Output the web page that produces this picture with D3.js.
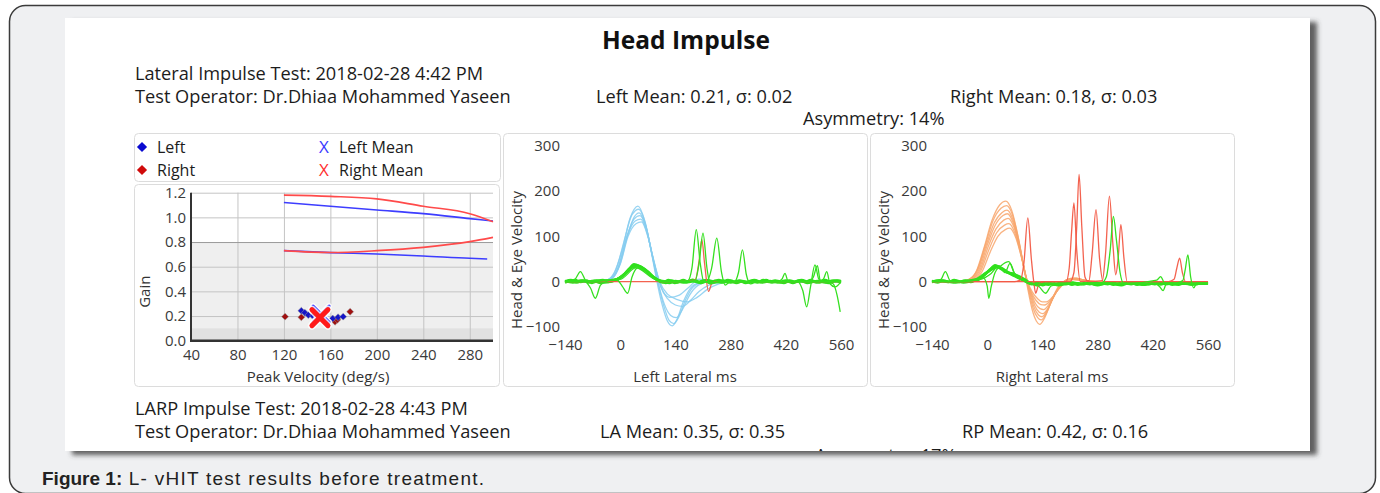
<!DOCTYPE html>
<html>
<head>
<meta charset="utf-8">
<script src="https://cdn.jsdelivr.net/npm/d3@7"></script>
<style>
    body { margin: 0; background: #fff; }
    svg text { font-family: "Open Sans", "Noto Sans", sans-serif; fill: #1c1c1c; }
    .tick text { fill: #3a3a3a; }
</style>
</head>
<body>
<div id="chart"></div>
<script>
// ---------- data ----------
const gainTicks = [0, 0.2, 0.4, 0.6, 0.8, 1.0, 1.2];
const peakVelTicks = [40, 80, 120, 160, 200, 240, 280];
const timeTicks = [-140, 0, 140, 280, 420, 560];
const velTicks = [-100, 0, 100, 200, 300];

// normative gain curves (peak velocity, gain)
const normVel = [120, 160, 200, 240, 280, 300];
const rightUpper = [1.18, 1.17, 1.15, 1.09, 1.03, 0.965];
const leftUpper = [1.12, 1.09, 1.06, 1.03, 0.99, 0.97];
const rightLower = [0.73, 0.715, 0.73, 0.757, 0.803, 0.838];
const leftLowerVel = [120, 160, 200, 240, 280, 295];
const leftLower = [0.73, 0.714, 0.703, 0.687, 0.668, 0.663];

// individual impulses (peak velocity, gain)
const leftImpulses = [[135, 0.243], [138, 0.227], [141, 0.208], [145, 0.2], [162, 0.18], [166.6, 0.19], [171, 0.195]];
const rightImpulses = [[121, 0.195], [135, 0.19], [164, 0.154], [166, 0.17], [177, 0.235]];
const leftMean = [152, 0.215];
const rightMean = [151, 0.187];

// Left lateral: head velocity traces (ms, deg/s)
const leftHead = [
    [[-140,0],[-60,0],[-35,3],[-15,20],[5,70],[25,140],[45,167],[62,135],[78,70],[92,5],[106,-50],[120,-88],[132,-98],[145,-82],[160,-45],[178,-15],[200,-3],[240,0],[560,0]],
    [[-140,0],[-55,0],[-30,4],[-10,28],[10,90],[30,148],[47,160],[64,128],[80,62],[95,0],[110,-52],[124,-86],[136,-93],[150,-76],[166,-40],[185,-12],[210,-2],[250,0],[560,0]],
    [[-140,0],[-50,1],[-25,6],[-5,32],[15,95],[35,138],[50,146],[66,118],[82,55],[97,-5],[112,-50],[128,-75],[142,-80],[158,-62],[176,-30],[198,-8],[225,0],[560,0]],
    [[-140,0],[-45,1],[-20,8],[0,40],[20,105],[38,134],[52,138],[68,108],[85,45],[102,-10],[120,-38],[140,-52],[158,-55],[178,-42],[200,-22],[225,-8],[255,-1],[290,0],[560,0]],
    [[-140,0],[-50,0],[-25,5],[-5,30],[15,92],[35,142],[48,152],[64,125],[82,58],[100,0],[120,-28],[145,-40],[170,-45],[195,-35],[220,-18],[250,-5],[285,0],[560,0]],
    [[-140,0],[-45,0],[-20,7],[0,38],[20,100],[40,128],[54,132],[70,100],[88,35],[105,-15],[125,-35],[150,-30],[175,-12],[200,5],[225,3],[260,0],[560,0]]
];
// Left lateral: eye velocity, quiet traces
const leftEyeBase = [
    [[-140,0],[-125,3],[-110,-2],[-95,2],[-80,-2],[-65,1],[-50,-3],[-35,2],[-20,1],[-5,6],[10,16],[25,30],[40,36],[55,31],[70,22],[85,10],[100,2],[115,-3],[130,2],[145,-2],[160,3],[175,-1],[190,2],[205,-3],[220,1],[235,-2],[250,3],[265,-1],[280,2],[295,-3],[310,1],[325,-2],[340,2],[355,-1],[370,3],[385,-2],[400,1],[415,-3],[430,2],[445,-1],[460,2],[475,-3],[490,1],[505,-2],[520,3],[535,-1],[550,2],[560,0]],
    [[-140,-2],[-128,1],[-114,3],[-100,-1],[-86,2],[-72,-3],[-58,1],[-44,3],[-30,-1],[-14,3],[2,10],[18,22],[33,32],[48,34],[63,26],[78,14],[93,4],[108,-2],[123,3],[138,-3],[153,1],[168,-2],[183,4],[198,-1],[213,2],[228,-3],[243,2],[258,-2],[273,3],[288,-1],[303,2],[318,-3],[333,1],[348,-2],[363,3],[378,-1],[393,2],[408,-2],[423,1],[438,-3],[453,2],[468,-1],[483,3],[498,-2],[513,1],[528,-3],[543,1],[560,-2]],
    [[-140,1],[-120,-2],[-100,2],[-80,0],[-60,2],[-40,-2],[-25,0],[-10,4],[5,12],[20,24],[35,38],[50,33],[65,24],[80,12],[95,3],[110,0],[125,-3],[140,1],[160,-2],[180,2],[200,-2],[220,3],[240,-1],[260,2],[280,-2],[300,1],[320,-1],[340,3],[360,-2],[380,1],[400,-2],[420,2],[440,-1],[460,3],[480,-2],[500,1],[520,-2],[540,2],[560,1]]
];
// Left lateral: eye velocity with saccades
const leftEyeSaccade = [
    [[-140,0],[-115,5],[-101,22],[-88,2],[-75,-15],[-63,-37],[-50,-8],[-35,0],[0,10],[20,25],[40,33],[60,25],[80,10],[100,0],[150,0],[172,2],[182,30],[193,115],[203,40],[212,0],[240,-3],[290,0],[300,20],[310,70],[320,15],[330,-5],[350,0],[450,0],[463,-20],[473,-56],[483,-10],[494,37],[504,5],[520,0],[540,-5],[550,-30],[558,-67]],
    [[-140,0],[-60,0],[-10,5],[5,-10],[19,-26],[30,10],[45,30],[65,22],[90,5],[130,0],[190,2],[200,40],[210,107],[220,30],[228,-5],[250,0],[400,0],[410,5],[418,18],[426,0],[500,0],[515,5],[524,22],[532,-5],[545,-12],[560,0]],
    [[-140,0],[0,5],[40,30],[90,5],[150,0],[220,0],[232,30],[245,96],[257,20],[266,-8],[280,0],[320,-2],[360,0],[480,0],[490,10],[500,35],[508,0],[530,0],[560,0]]
];
const leftEyeRed = [
    [[-140,0],[150,0],[190,3],[200,45],[207,93],[214,40],[224,-22],[232,-5],[245,0],[560,0]]
];

// Right lateral: head velocity traces
const rightHead = [
    [[-140,0],[-70,0],[-48,4],[-28,22],[-8,75],[12,135],[32,170],[47,178],[62,158],[77,105],[92,35],[102,-12],[114,-62],[125,-88],[133,-95],[146,-80],[162,-45],[180,-12],[200,3],[222,8],[246,3],[275,0],[560,0]],
    [[-140,0],[-68,0],[-45,5],[-25,26],[-5,80],[15,135],[35,162],[49,168],[64,148],[79,96],[94,28],[104,-15],[116,-58],[128,-80],[137,-85],[150,-70],[166,-38],[184,-10],[204,4],[226,7],[250,2],[280,0],[560,0]],
    [[-140,0],[-65,0],[-42,6],[-22,30],[-2,82],[18,130],[38,153],[50,158],[65,138],[80,88],[95,22],[106,-18],[118,-55],[130,-74],[139,-78],[152,-64],[168,-34],[186,-8],[206,5],[228,6],[255,1],[285,0],[560,0]],
    [[-140,0],[-62,0],[-40,5],[-20,28],[0,80],[20,124],[40,146],[51,150],[66,130],[82,78],[97,15],[108,-20],[120,-52],[132,-68],[141,-71],[155,-58],[171,-30],[190,-6],[210,5],[232,5],[260,1],[290,0],[560,0]],
    [[-140,0],[-60,0],[-38,5],[-18,26],[2,76],[22,116],[42,136],[53,140],[68,120],[84,68],[99,8],[110,-22],[122,-48],[134,-60],[143,-62],[157,-50],[173,-26],[192,-4],[212,6],[235,4],[265,0],[560,0]],
    [[-140,0],[-58,0],[-36,4],[-16,24],[4,70],[24,108],[44,125],[55,128],[70,108],[86,58],[101,2],[112,-24],[124,-42],[136,-51],[146,-52],[160,-42],[176,-22],[195,-3],[215,5],[238,3],[268,0],[560,0]],
    [[-140,0],[-55,0],[-33,4],[-13,22],[7,64],[27,100],[46,115],[57,118],[72,98],[88,50],[103,-2],[115,-24],[128,-38],[140,-45],[150,-45],[164,-36],[180,-18],[198,-2],[218,4],[242,2],[272,0],[560,0]]
];
const rightEyeBase = [
    [[-140,0],[-120,2],[-100,-1],[-80,2],[-60,-2],[-40,1],[-25,3],[-10,12],[5,25],[20,33],[35,30],[50,22],[65,15],[80,12],[95,5],[110,-4],[125,-6],[140,-3],[155,-7],[170,-4],[185,-6],[200,-3],[215,-7],[230,-4],[245,-6],[260,-3],[275,-7],[290,-4],[305,-6],[320,-3],[335,-7],[350,-4],[365,-6],[380,-3],[395,-7],[410,-4],[425,-6],[440,-3],[455,-6],[470,-4],[485,-7],[500,-3],[515,-6],[530,-4],[545,-5],[560,-3]],
    [[-140,1],[-126,-2],[-112,2],[-98,-1],[-84,3],[-70,-1],[-56,2],[-42,-1],[-28,4],[-14,10],[0,20],[14,28],[28,32],[42,26],[56,18],[70,12],[84,6],[98,0],[112,-6],[126,-3],[140,-8],[155,-4],[170,-7],[185,-3],[200,-6],[215,-2],[230,-7],[245,-4],[260,-6],[275,-2],[290,-6],[305,-3],[320,-7],[335,-4],[350,-5],[365,-2],[380,-7],[395,-4],[410,-6],[425,-2],[440,-6],[455,-3],[470,-7],[485,-4],[500,-5],[515,-2],[530,-6],[545,-3],[560,-4]],
    [[-140,-1],[-120,2],[-100,0],[-80,-2],[-60,1],[-40,3],[-25,6],[-10,15],[5,24],[20,36],[35,28],[50,20],[65,18],[80,10],[95,2],[110,-3],[125,-8],[140,-5],[160,-4],[180,-8],[200,-5],[220,-3],[240,-6],[260,-4],[280,-8],[300,-4],[320,-5],[340,-8],[360,-3],[380,-5],[400,-7],[420,-4],[440,-6],[460,-3],[480,-6],[500,-4],[520,-7],[540,-4],[560,-5]]
];
const rightEyeSaccade = [
    [[-140,0],[-118,4],[-106,22],[-94,2],[-80,0],[-40,2],[-10,8],[0,-10],[4,-37],[10,-12],[20,20],[35,35],[55,44],[68,20],[85,6],[105,-3],[130,-10],[148,-26],[162,-10],[185,-5],[240,-4],[290,-3],[302,10],[312,70],[320,144],[328,90],[337,20],[346,-4],[380,-5],[425,-4],[438,-12],[446,-20],[455,-4],[480,-3],[496,2],[502,25],[509,59],[516,10],[524,-14],[532,-3],[560,-4]],
    [[-140,0],[-60,0],[-20,4],[10,18],[30,35],[45,20],[58,40],[72,12],[90,3],[110,-5],[200,-4],[240,-6],[300,-3],[350,-5],[430,3],[440,11],[450,-3],[500,-4],[560,-3]]
];
const rightEyeRed = [
    [[-140,0],[70,0],[84,3],[93,40],[103,141],[112,50],[118,0],[123,-26],[130,-8],[145,0],[200,0],[208,30],[214,110],[220,174],[227,70],[236,0],[258,2],[266,60],[276,159],[285,50],[294,0],[330,0],[460,0],[474,5],[481,30],[488,52],[495,20],[503,0],[560,0]],
    [[-140,0],[210,0],[220,20],[227,120],[233,237],[240,120],[248,10],[256,0],[292,2],[300,60],[310,189],[319,80],[326,15],[332,50],[339,126],[347,50],[355,0],[380,0],[560,0]]
];

// ---------- page ----------
const W = 1380, H = 493;
const svg = d3.select('#chart').append('svg')
    .attr('width', W)
    .attr('height', H);

const defs = svg.append('defs');
const shadow = defs.append('filter').attr('id', 'shadow')
    .attr('x', '-2%').attr('y', '-2%').attr('width', '105%').attr('height', '107%');
shadow.append('feDropShadow')
    .attr('dx', 7).attr('dy', 4).attr('stdDeviation', 2.5)
    .attr('flood-color', '#3a3a3a').attr('flood-opacity', 0.8);
defs.append('clipPath').attr('id', 'panel-clip')
    .append('rect').attr('x', 65).attr('y', 18).attr('width', 1245).attr('height', 433);

// outer frame
svg.append('rect')
    .attr('x', 9.5).attr('y', 5.5)
    .attr('width', 1366).attr('height', 488)
    .attr('rx', 16)
    .attr('fill', '#eff0f2')
    .attr('stroke', '#3b3b3b')
    .attr('stroke-width', 1.5);

// screenshot panel
svg.append('rect')
    .attr('x', 65).attr('y', 18)
    .attr('width', 1245).attr('height', 433)
    .attr('fill', '#fff')
    .attr('filter', 'url(#shadow)');

const panel = svg.append('g').attr('clip-path', 'url(#panel-clip)');

panel.append('text')
    .attr('x', 686).attr('y', 49)
    .attr('text-anchor', 'middle')
    .style('font-size', '24.5px')
    .style('font-weight', 'bold')
    .style('fill', '#111')
    .text('Head Impulse');

const headerLines = [
    { x: 135, y: 80, t: 'Lateral Impulse Test: 2018-02-28 4:42 PM' },
    { x: 135, y: 103, t: 'Test Operator: Dr.Dhiaa Mohammed Yaseen' },
    { x: 596, y: 103, t: 'Left Mean: 0.21, \u03c3: 0.02' },
    { x: 950, y: 103, t: 'Right Mean: 0.18, \u03c3: 0.03' },
    { x: 803, y: 125, t: 'Asymmetry: 14%' },
    { x: 135, y: 415, t: 'LARP Impulse Test: 2018-02-28 4:43 PM' },
    { x: 135, y: 438, t: 'Test Operator: Dr.Dhiaa Mohammed Yaseen' },
    { x: 600, y: 438, t: 'LA Mean: 0.35, \u03c3: 0.35' },
    { x: 962, y: 438, t: 'RP Mean: 0.42, \u03c3: 0.16' },
    { x: 815, y: 462, t: 'Asymmetry: 17%' }
];
panel.selectAll('.header-line')
    .data(headerLines)
    .join('text')
    .attr('class', 'header-line')
    .attr('x', d => d.x)
    .attr('y', d => d.y)
    .style('font-size', '18.2px')
    .text(d => d.t);

// ---------- legend ----------
function box(x, y, w, h) {
    panel.append('rect')
        .attr('x', x + 0.5).attr('y', y + 0.5)
        .attr('width', w).attr('height', h)
        .attr('rx', 4)
        .attr('fill', '#fff')
        .attr('stroke', '#dcdcdc');
}

const diamond = size => d3.symbol(d3.symbolSquare, size)();

box(134, 133, 366, 48);
const legendItems = [
    { x: 142, y: 147, label: 'Left', kind: 'diamond', color: '#0a0ad0' },
    { x: 142, y: 170, label: 'Right', kind: 'diamond', color: '#d00a0a' },
    { x: 324, y: 147, label: 'Left Mean', kind: 'x', color: '#3a3aff' },
    { x: 324, y: 170, label: 'Right Mean', kind: 'x', color: '#ff3030' }
];
const legend = panel.append('g').attr('class', 'legend');
legendItems.forEach(d => {
    if (d.kind === 'diamond') {
        legend.append('path')
            .attr('transform', `translate(${d.x},${d.y}) rotate(45)`)
            .attr('d', diamond(52))
            .attr('fill', d.color);
    } else {
        legend.append('text')
            .attr('x', d.x).attr('y', d.y)
            .attr('dy', '0.36em')
            .attr('text-anchor', 'middle')
            .style('font-size', '17px')
            .style('fill', d.color)
            .text('X');
    }
    legend.append('text')
        .attr('x', d.x + 15).attr('y', d.y)
        .attr('dy', '0.36em')
        .style('font-size', '16px')
        .text(d.label);
});

// ---------- gain vs peak velocity ----------
box(134, 184, 365, 202);
const gx = d3.scaleLinear().domain([40, 300]).range([191, 493]);
const gy = d3.scaleLinear().domain([0, 1.2]).range([340.7, 192.7]);
const gain = panel.append('g').attr('class', 'gain-chart');

gain.append('rect')
    .attr('x', gx(40)).attr('y', gy(0.8))
    .attr('width', gx(300) - gx(40)).attr('height', gy(0) - gy(0.8))
    .attr('fill', '#efefef');
gain.append('rect')
    .attr('x', gx(40)).attr('y', gy(0.1))
    .attr('width', gx(300) - gx(40)).attr('height', gy(0) - gy(0.1))
    .attr('fill', '#e1e1e1');

const gxAxis = gain.append('g')
    .attr('transform', `translate(0,${gy(0)})`)
    .call(d3.axisBottom(gx).tickValues(peakVelTicks).tickSize(-(gy(0) - gy(1.2))).tickPadding(9));
const gyAxis = gain.append('g')
    .attr('transform', `translate(${gx(40)},0)`)
    .call(d3.axisLeft(gy).tickValues(gainTicks).tickSize(-(gx(300) - gx(40))).tickPadding(5).tickFormat(d3.format('.1f')));
[gxAxis, gyAxis].forEach(a => {
    a.select('.domain').remove();
    a.selectAll('.tick line').attr('stroke', '#c4c4c4');
    a.selectAll('.tick text').style('font-size', '15px').style('font-family', '"Open Sans", sans-serif');
});
gyAxis.selectAll('.tick line').filter(d => d === 0.8).attr('stroke', '#9a9a9a');

gain.append('line')
    .attr('x1', gx(40)).attr('x2', gx(40))
    .attr('y1', gy(1.2)).attr('y2', gy(0))
    .attr('stroke', '#333').attr('stroke-width', 2);
gain.append('line')
    .attr('x1', gx(40) - 1).attr('x2', gx(300))
    .attr('y1', gy(0)).attr('y2', gy(0))
    .attr('stroke', '#333').attr('stroke-width', 2.5);

const normLine = d3.line().x(d => gx(d[0])).y(d => gy(d[1])).curve(d3.curveMonotoneX);
const norms = [
    { vel: normVel, g: leftUpper, color: '#3d3dff' },
    { vel: leftLowerVel, g: leftLower, color: '#3d3dff' },
    { vel: normVel, g: rightUpper, color: '#ff4a4a' },
    { vel: normVel, g: rightLower, color: '#ff4a4a' }
];
gain.selectAll('.norm')
    .data(norms)
    .join('path')
    .attr('class', 'norm')
    .attr('d', d => normLine(d.vel.map((v, i) => [v, d.g[i]])))
    .attr('fill', 'none')
    .attr('stroke', d => d.color)
    .attr('stroke-width', 1.6);

function drawImpulses(points, color) {
    gain.selectAll(null)
        .data(points)
        .join('path')
        .attr('transform', d => `translate(${gx(d[0])},${gy(d[1])}) rotate(45)`)
        .attr('d', diamond(24))
        .attr('fill', color)
        .attr('stroke', '#999')
        .attr('stroke-width', 0.5);
}
drawImpulses(rightImpulses, '#a01010');
drawImpulses(leftImpulses, '#1515c8');

function drawMean(m, color, arm, width) {
    const cx = gx(m[0]), cy = gy(m[1]);
    const d = `M${cx - arm},${cy - arm}L${cx + arm},${cy + arm}M${cx - arm},${cy + arm}L${cx + arm},${cy - arm}`;
    gain.append('path').attr('d', d).attr('stroke', '#fff').attr('stroke-width', width + 3).attr('stroke-linecap', 'round').attr('opacity', 0.8);
    gain.append('path').attr('d', d).attr('stroke', color).attr('stroke-width', width).attr('stroke-linecap', 'round');
}
drawMean(leftMean, '#3c3cff', 8, 3);
drawMean(rightMean, '#ff1a1a', 8, 5);

gain.append('text')
    .attr('transform', `translate(150,${(gy(0) + gy(1.2)) / 2 + 25}) rotate(-90)`)
    .attr('text-anchor', 'middle')
    .style('font-size', '15px')
    .style('fill', '#333')
    .text('Gain');
gain.append('text')
    .attr('x', 318).attr('y', 382)
    .attr('text-anchor', 'middle')
    .style('font-size', '15px')
    .style('fill', '#333')
    .text('Peak Velocity (deg/s)');

// ---------- head & eye velocity traces ----------
function drawTraceChart(cfg) {
    box(cfg.left, 133, 364, 253);
    const g = panel.append('g').attr('class', 'trace-chart');
    const x = d3.scaleLinear().domain([-140, 560]).range([cfg.left + 62, cfg.left + 338]);
    const y = d3.scaleLinear().domain([-100, 300]).range([326.7, 146]);
    const line = d3.line().x(d => x(d[0])).y(d => y(d[1])).curve(d3.curveMonotoneX);

    const layers = [
        { data: cfg.head, color: cfg.headColor, width: 1.3, opacity: 0.85 },
        { data: cfg.eyeBase, color: '#2fe01c', width: 2.6, opacity: 1 },
        { data: cfg.eyeRed, color: '#f25a46', width: 1.3, opacity: 0.95 },
        { data: cfg.eyeSaccade, color: '#35e020', width: 1.3, opacity: 1 }
    ];
    layers.forEach(l => {
        g.append('g').selectAll('path')
            .data(l.data)
            .join('path')
            .attr('d', line)
            .attr('fill', 'none')
            .attr('stroke', l.color)
            .attr('stroke-width', l.width)
            .attr('opacity', l.opacity);
    });

    const yAxis = g.append('g')
        .attr('transform', `translate(${cfg.left + 60},0)`)
        .call(d3.axisLeft(y).tickValues(velTicks).tickSize(0).tickPadding(3));
    const xAxis = g.append('g')
        .attr('transform', `translate(0,336)`)
        .call(d3.axisBottom(x).tickValues(timeTicks).tickSize(0).tickPadding(3));
    [xAxis, yAxis].forEach(a => {
        a.select('.domain').remove();
        a.selectAll('.tick text').style('font-size', '15px').style('font-family', '"Open Sans", sans-serif');
    });

    g.append('text')
        .attr('transform', `translate(${cfg.left + 19},260) rotate(-90)`)
        .attr('text-anchor', 'middle')
        .style('font-size', '15px')
        .style('fill', '#333')
        .text('Head & Eye Velocity');
    g.append('text')
        .attr('x', cfg.left + 182).attr('y', 382)
        .attr('text-anchor', 'middle')
        .style('font-size', '15px')
        .style('fill', '#333')
        .text(cfg.title);
}

drawTraceChart({
    left: 503, title: 'Left Lateral ms', headColor: '#86cdf0',
    head: leftHead, eyeBase: leftEyeBase, eyeSaccade: leftEyeSaccade, eyeRed: leftEyeRed
});
drawTraceChart({
    left: 870, title: 'Right Lateral ms', headColor: '#f8a66c',
    head: rightHead, eyeBase: rightEyeBase, eyeSaccade: rightEyeSaccade, eyeRed: rightEyeRed
});

// ---------- caption ----------
const caption = svg.append('text')
    .attr('x', 42).attr('y', 485)
    .style('font-family', '"Liberation Sans", Arial, sans-serif')
    .style('font-size', '19px')
    .style('fill', '#222');
caption.append('tspan').style('font-weight', 'bold').text('Figure 1:');
caption.append('tspan').style('letter-spacing', '1.25px').text(' L- vHIT test results before treatment.');
</script>
</body>
</html>
